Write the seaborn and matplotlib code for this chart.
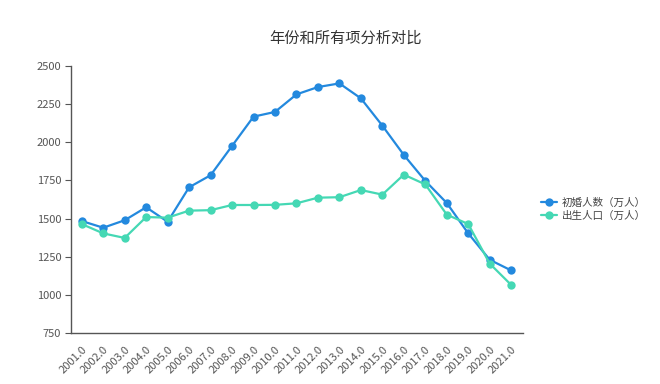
import matplotlib
matplotlib.use("Agg")
import matplotlib.pyplot as plt
import seaborn as sns
import pandas as pd

years = [2001.0, 2002.0, 2003.0, 2004.0, 2005.0, 2006.0, 2007.0, 2008.0, 2009.0, 2010.0,
         2011.0, 2012.0, 2013.0, 2014.0, 2015.0, 2016.0, 2017.0, 2018.0, 2019.0, 2020.0, 2021.0]
marriages = [1484, 1440, 1489, 1574, 1479, 1705, 1784, 1976, 2168, 2199,
             2314, 2362, 2386, 2288, 2109, 1917, 1747, 1602, 1403, 1230, 1160]
births = [1464, 1403, 1373, 1510, 1506, 1552, 1555, 1589, 1589, 1590,
          1600, 1637, 1640, 1687, 1657, 1788, 1724, 1526, 1464, 1205, 1065]
series_names = ["初婚人数（万人）", "出生人口（万人）"]
title = "年份和所有项分析对比"

sns.set_theme(style="white")
plt.rcParams['font.family'] = ['Noto Sans CJK SC', 'DejaVu Sans']

labels = [f"{y:.1f}" for y in years]
idx = list(range(len(years)))
df = pd.DataFrame({
    "x": idx * 2,
    "value": marriages + births,
    "series": [series_names[0]] * len(years) + [series_names[1]] * len(years),
})

fig = plt.figure(figsize=(6.6, 3.84), dpi=100)
ax = fig.add_axes([71/660, 1-333/384, (523-71)/660, (333-66)/384])
palette = {series_names[0]: "#2389de", series_names[1]: "#45d8b4"}
sns.lineplot(data=df, x="x", y="value", hue="series", palette=palette, marker="o",
             markersize=6, markeredgewidth=0, linewidth=1.6, ax=ax)

ax.set_xlim(-0.5, len(years) - 0.45)
ax.set_ylim(750, 2500)
ax.set_yticks([750, 1000, 1250, 1500, 1750, 2000, 2250, 2500])
ax.set_xticks(idx)
ax.set_xticklabels(labels, rotation=45, ha="right", rotation_mode="anchor")
ax.tick_params(axis="both", labelsize=8, colors="#555555")
ax.tick_params(axis="y", left=True, length=4, width=0.8, color="#555555", pad=3)
ax.tick_params(axis="x", bottom=False, pad=2)
ax.set_xlabel("")
ax.set_ylabel("")
for s in ["top", "right"]:
    ax.spines[s].set_visible(False)
for s in ["left", "bottom"]:
    ax.spines[s].set_color("#555555")
    ax.spines[s].set_linewidth(1.0)

leg = ax.legend(loc="upper left", bbox_to_anchor=(531/660, 1-188/384), bbox_transform=fig.transFigure,
                frameon=False, fontsize=7.6, handlelength=1.6, handletextpad=0.4, labelspacing=0.3)
for t in leg.get_texts():
    t.set_color("#444444")

fig.text(0.523, 1-38/384, title, ha="center", va="center", fontsize=11, color="#333333")
fig.savefig("out.png", dpi=100)
